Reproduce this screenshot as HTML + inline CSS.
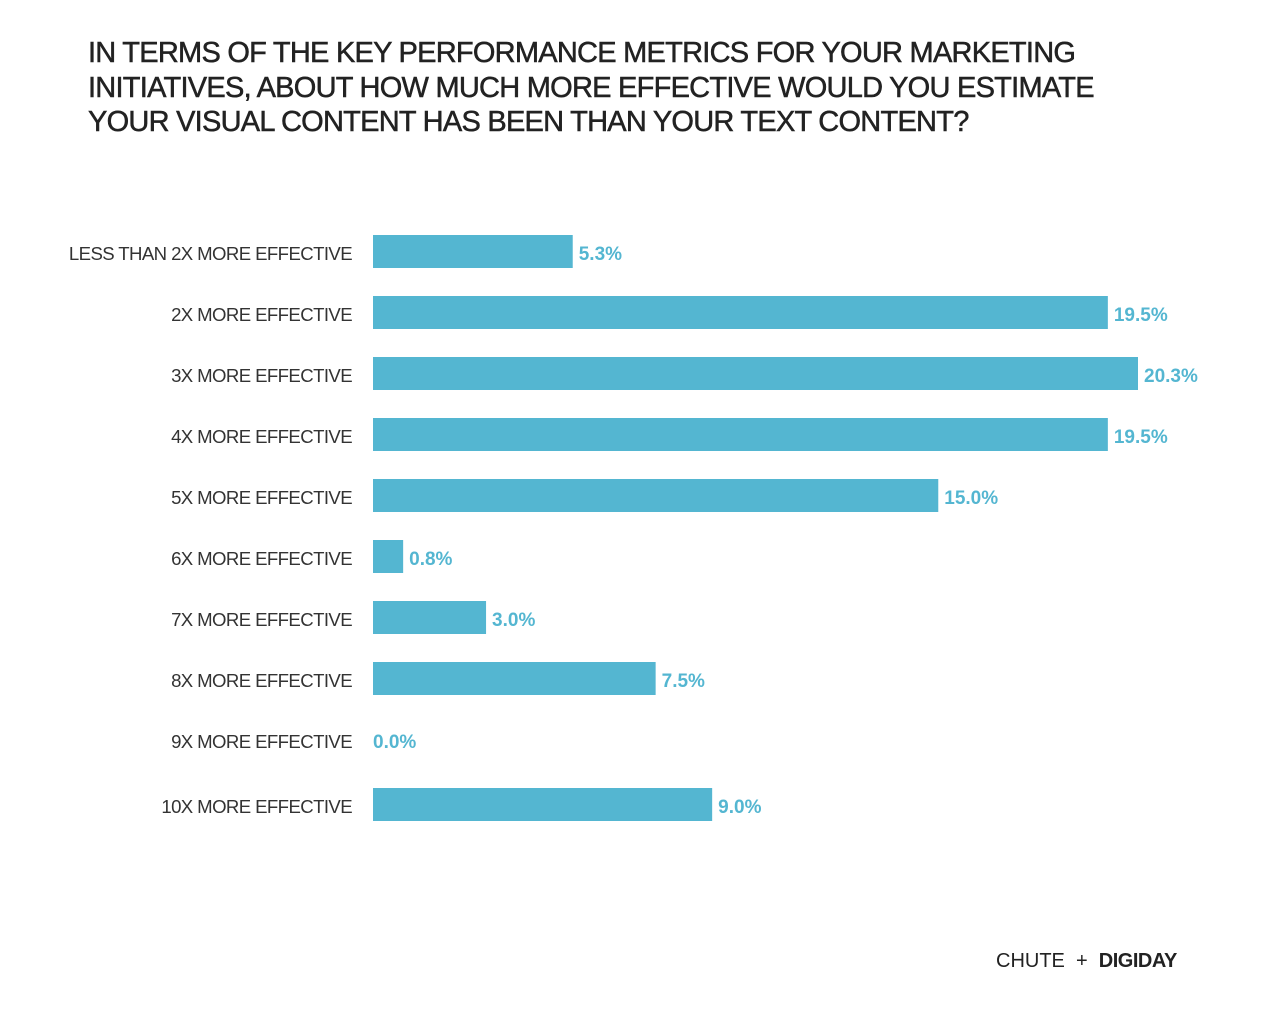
<!DOCTYPE html>
<html><head><meta charset="utf-8">
<style>
body{margin:0;background:#fff;width:1264px;height:1016px;overflow:hidden;font-family:"Liberation Sans",sans-serif;}
#title{position:absolute;left:88px;top:36px;font-size:29px;line-height:34.5px;color:#222;letter-spacing:-0.75px;margin:0;font-weight:normal;-webkit-text-stroke:0.5px #222;}
#footer{position:absolute;left:996px;top:950px;font-size:20px;color:#222;}
#footer b{font-weight:900;letter-spacing:-0.5px;}
svg{position:absolute;left:0;top:0}
</style></head><body>
<h1 id="title">IN TERMS OF THE KEY PERFORMANCE METRICS FOR YOUR MARKETING<br>INITIATIVES, ABOUT HOW MUCH MORE EFFECTIVE WOULD YOU ESTIMATE<br>YOUR VISUAL CONTENT HAS BEEN THAN YOUR TEXT CONTENT?</h1>
<svg id="chart" width="1264" height="1016"></svg>
<div id="footer">CHUTE &nbsp;+ &nbsp;<b>DIGIDAY</b></div>
<script>
const categories=["LESS THAN 2X MORE EFFECTIVE","2X MORE EFFECTIVE","3X MORE EFFECTIVE","4X MORE EFFECTIVE","5X MORE EFFECTIVE","6X MORE EFFECTIVE","7X MORE EFFECTIVE","8X MORE EFFECTIVE","9X MORE EFFECTIVE","10X MORE EFFECTIVE"];
const values=[5.3,19.5,20.3,19.5,15.0,0.8,3.0,7.5,0.0,9.0];
const valueLabels=["5.3%","19.5%","20.3%","19.5%","15.0%","0.8%","3.0%","7.5%","0.0%","9.0%"];
const svg=document.getElementById('chart');
const NS='http://www.w3.org/2000/svg';
const x0=373,pxPer=(1138-373)/20.3;
function xs(v){return x0+v*pxPer;}
function ys(i){return 252+i*61+(i===9?4:0);}
categories.forEach((c,i)=>{
  const y=ys(i);
  const t=document.createElementNS(NS,'text');
  
  
  t.setAttribute('x',352);t.setAttribute('y',y+8);t.setAttribute('text-anchor','end');
  t.setAttribute('font-size','18.6');t.setAttribute('fill','#333');t.setAttribute('letter-spacing','-0.6');
  t.textContent=c;svg.appendChild(t);
  const w=xs(values[i])-x0;
  if(w>0){
    const r=document.createElementNS(NS,'rect');
    
    
    r.setAttribute('x',x0);r.setAttribute('y',y-17);r.setAttribute('width',w);r.setAttribute('height',33);
    r.setAttribute('fill','#54b6d1');svg.appendChild(r);
  }
  const v=document.createElementNS(NS,'text');
  
  
  v.setAttribute('x',xs(values[i])+(w>0?6:0));v.setAttribute('y',y+8);
  v.setAttribute('font-size','19');v.setAttribute('font-weight','bold');v.setAttribute('fill','#54b6d1');
  v.textContent=valueLabels[i];svg.appendChild(v);
});
</script>
</body></html>
